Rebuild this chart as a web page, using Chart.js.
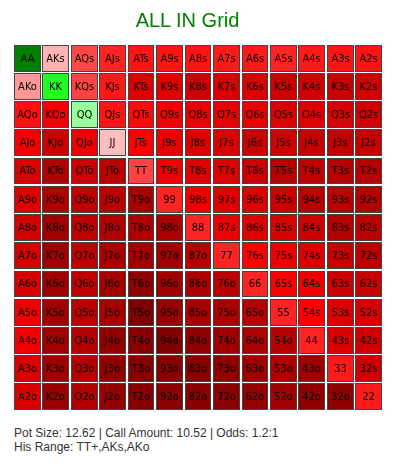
<!DOCTYPE html>
<html>
<head>
    <meta charset="utf-8">
    <title>ALL IN Grid</title>
    <script src="https://cdn.jsdelivr.net/npm/chart.js"></script>
    <style>
        body {
            margin: 0;
            background: #fff;
            font-family: Arial, "Liberation Sans", sans-serif;
        }
        #grid-box {
            position: absolute;
            left: 0;
            top: 0;
            width: 393px;
            height: 420px;
        }
        #title {
            position: absolute;
            left: 0;
            top: 8px;
            width: 375px;
            text-align: center;
            font-size: 20px;
            line-height: 24px;
            color: #008000;
        }
        #info {
            position: absolute;
            left: 14px;
            top: 426px;
            font-size: 12px;
            line-height: 14px;
            color: #333;
        }
    </style>
</head>
<body>
<div id="grid-box"><canvas id="grid-chart"></canvas></div>
<div id="title">ALL IN Grid</div>
<div id="info">
    <div id="pot-line"></div>
    <div id="range-line"></div>
</div>
<script>
    const ranks = ['A', 'K', 'Q', 'J', 'T', '9', '8', '7', '6', '5', '4', '3', '2'];

    // EV of calling the all-in, one row per first rank (suited above the diagonal, offsuit below)
    const evA = [1.00, -0.05, -0.26, -0.33, -0.36, -0.36, -0.36, -0.35, -0.35, -0.33, -0.35, -0.36, -0.36];
    const evK = [-0.10, 0.42, -0.27, -0.35, -0.56, -0.55, -0.64, -0.56, -0.56, -0.64, -0.62, -0.66, -0.60];
    const evQ = [-0.37, -0.45, 0.12, -0.36, -0.38, -0.47, -0.51, -0.51, -0.52, -0.56, -0.56, -0.60, -0.62];
    const evJ = [-0.45, -0.64, -0.48, -0.03, -0.40, -0.51, -0.56, -0.56, -0.64, -0.62, -0.66, -0.68, -0.66];
    const evT = [-0.58, -0.77, -0.64, -0.72, -0.27, -0.48, -0.55, -0.56, -0.64, -0.74, -0.70, -0.74, -0.74];
    const ev9 = [-0.56, -0.77, -0.70, -0.72, -0.80, -0.33, -0.48, -0.55, -0.56, -0.64, -0.72, -0.72, -0.75];
    const ev8 = [-0.60, -0.85, -0.70, -0.77, -0.77, -0.80, -0.33, -0.48, -0.55, -0.58, -0.64, -0.75, -0.72];
    const ev7 = [-0.60, -0.85, -0.70, -0.80, -0.85, -0.85, -0.74, -0.33, -0.40, -0.48, -0.56, -0.66, -0.72];
    const ev6 = [-0.58, -0.85, -0.70, -0.83, -0.92, -0.85, -0.80, -0.72, -0.33, -0.40, -0.48, -0.64, -0.66];
    const ev5 = [-0.48, -0.85, -0.72, -0.81, -1.00, -0.88, -0.83, -0.80, -0.74, -0.33, -0.40, -0.56, -0.60];
    const ev4 = [-0.48, -0.85, -0.75, -0.92, -0.96, -1.00, -0.92, -0.85, -0.80, -0.74, -0.33, -0.56, -0.62];
    const ev3 = [-0.56, -0.85, -0.75, -0.92, -0.96, -0.96, -0.96, -0.92, -0.85, -0.80, -0.85, -0.35, -0.64];
    const ev2 = [-0.58, -0.88, -0.77, -0.90, -0.96, -0.95, -0.96, -0.95, -0.90, -0.85, -0.92, -0.92, -0.35];
    const evRows = [evA, evK, evQ, evJ, evT, ev9, ev8, ev7, ev6, ev5, ev4, ev3, ev2];

    const potSize = 12.62;
    const callAmount = 10.52;
    const odds = '1.2:1';
    const hisRange = 'TT+,AKs,AKo';

    document.getElementById('pot-line').textContent =
        `Pot Size: ${potSize} | Call Amount: ${callAmount} | Odds: ${odds}`;
    document.getElementById('range-line').textContent = `His Range: ${hisRange}`;

    // Hand name for a cell
    function handLabel(r, c) {
        if (r === c) return ranks[r] + ranks[c];
        if (c > r) return ranks[r] + ranks[c] + 's';
        return ranks[c] + ranks[r] + 'o';
    }

    // Green for +EV, pink -> red -> dark red for -EV
    function evColor(v) {
        if (v >= 0) {
            if (v < 0.5) {
                const g = Math.round(204 * (1 - v / 0.5));
                return `rgb(${g},255,${g})`;
            }
            const t = (v - 0.5) / 0.5;
            return `rgb(0,${Math.round(255 - 127 * t)},0)`;
        }
        if (v > -0.4) {
            const g = Math.round(204 * (1 + v / 0.4));
            return `rgb(255,${g},${g})`;
        }
        const t = Math.min(1, (-v - 0.4) / 0.6);
        return `rgb(${Math.round(255 - 127 * t)},0,0)`;
    }

    // Paint the bars ourselves, snapped to whole pixels, with a border and the hand name
    const gridCells = {
        id: 'gridCells',
        beforeDatasetsDraw(chart) {
            const ctx = chart.ctx;
            ctx.save();
            ctx.strokeStyle = '#444';
            ctx.lineWidth = 1;
            ctx.font = '11px "DejaVu Sans Condensed", "DejaVu Sans", sans-serif';
            ctx.textAlign = 'center';
            ctx.textBaseline = 'middle';
            chart.data.datasets.forEach((ds, r) => {
                chart.getDatasetMeta(r).data.forEach((bar, c) => {
                    const left = Math.round(bar.x - bar.width / 2);
                    const right = Math.round(bar.x + bar.width / 2);
                    const top = Math.round(Math.min(bar.y, bar.base));
                    const bottom = Math.round(Math.max(bar.y, bar.base));
                    ctx.fillStyle = bar.options.backgroundColor;
                    ctx.fillRect(left, top, right - left, bottom - top);
                    ctx.strokeRect(left + 0.5, top + 0.5, right - left - 1, bottom - top - 1);
                    ctx.fillStyle = '#000';
                    ctx.fillText(handLabel(r, c), (left + right) / 2, (top + bottom) / 2 + 0.5);
                });
            });
            ctx.restore();
            return false;
        }
    };

    const datasets = evRows.map((row, r) => ({
        label: ranks[r],
        data: row.map(() => [r + 0.025, r + 0.975]),
        backgroundColor: row.map(evColor),
        borderWidth: 0,
        inflateAmount: 0,
        grouped: false,
        categoryPercentage: 1,
        barPercentage: 0.94
    }));

    new Chart(document.getElementById('grid-chart'), {
        type: 'bar',
        data: {
            labels: ranks,
            datasets: datasets
        },
        options: {
            responsive: true,
            maintainAspectRatio: false,
            animation: false,
            layout: {
                padding: { left: 13, right: 10, top: 44, bottom: 9 }
            },
            plugins: {
                legend: { display: false },
                tooltip: { enabled: false },
                title: { display: false }
            },
            scales: {
                x: { display: false },
                y: { display: false, min: 0, max: 13, reverse: true }
            }
        },
        plugins: [gridCells]
    });
</script>
</body>
</html>
